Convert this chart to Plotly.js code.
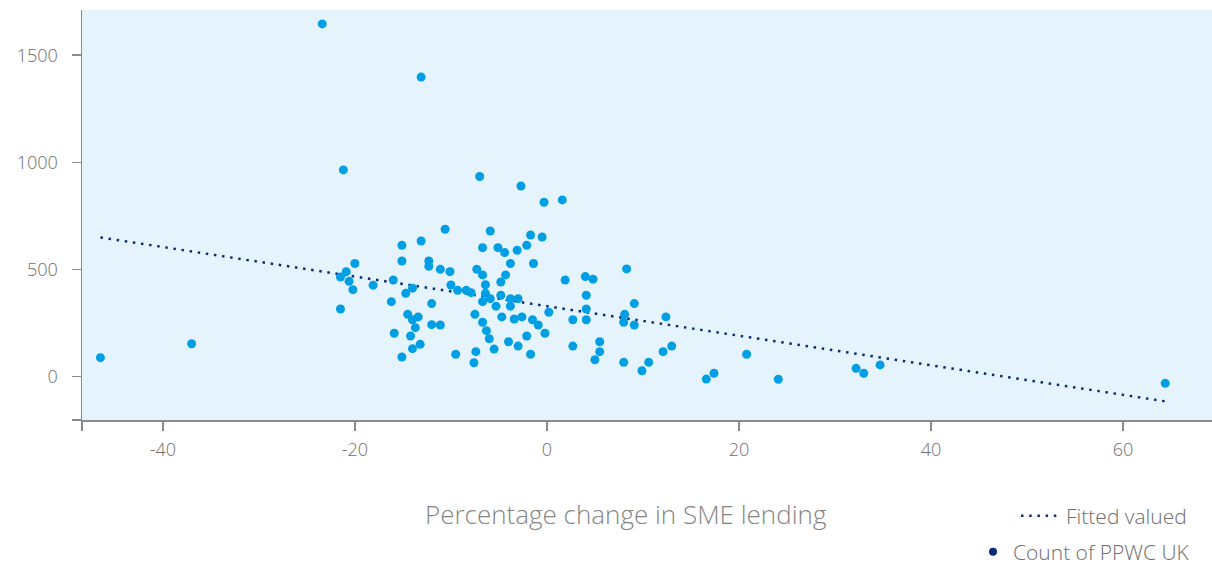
<!DOCTYPE html>
<html><head><meta charset="utf-8">
<script src="https://cdn.plot.ly/plotly-3.0.1.min.js"></script>
<style>html,body{margin:0;padding:0;background:#fff;}#chart{width:1212px;height:565px;}</style>
</head><body><div id="chart"></div>
<script>
// Percentage change in SME lending (x) vs Count of PPWC UK (y)
const lendingChange = [
 -46.5, -37.0, -23.4, -13.1, -21.2, -7.0, -2.7, -0.3, 1.6, -10.6,
 -5.9, -1.7, -0.5, -15.1, -13.1, -6.7, -5.1, -4.4, -3.1, -2.1,
 -15.1, -12.3, -12.3, -11.1, -10.1, -7.3, -6.7, -3.8, -1.4, -4.3,
 -20.0, -20.9, -21.5, -20.6, -20.2, -21.5, -18.1, -16.0, -14.0, -14.7,
 -16.2, -10.0, -9.3, -8.4, -7.9, -6.4, -6.4, -6.7, -5.9, -4.8,
 -4.8, -3.8, -3.0, -5.3, -3.8, -12.0, -14.5, -14.0, -13.4, -13.7,
 -12.0, -11.1, -7.5, -6.7, -4.7, -3.4, -2.6, -1.5, -0.9, 0.2,
 -6.3, -15.9, -14.2, -6.0, -2.1, -0.2, -4.0, -3.0, -5.5, -13.2,
 -14.0, -15.1, -9.5, -7.4, -7.6, -1.7, 1.9, 4.0, 4.8, 4.1,
 4.1, 4.1, 2.7, 2.7, 5.5, 5.5, 5.0, 8.3, 9.1, 8.1,
 8.0, 9.1, 12.4, 8.0, 10.6, 9.9, 12.1, 13.0, 16.6, 17.4,
 20.8, 24.1, 32.2, 33.0, 34.7, 64.4
];
const ppwcCount = [
 89, 154, 1646, 1398, 965, 934, 890, 814, 825, 688,
 680, 661, 652, 613, 633, 602, 602, 579, 590, 613,
 540, 540, 515, 501, 490, 501, 475, 528, 528, 475,
 528, 490, 465, 445, 406, 316, 427, 451, 413, 389,
 350, 428, 403, 403, 392, 429, 389, 350, 364, 442,
 380, 364, 364, 329, 329, 341, 291, 266, 279, 229,
 243, 241, 291, 254, 279, 269, 279, 266, 241, 301,
 215, 203, 190, 177, 190, 203, 163, 143, 129, 151,
 131, 92, 105, 117, 65, 105, 451, 467, 455, 380,
 316, 266, 266, 143, 163, 117, 79, 503, 341, 291,
 254, 241, 279, 67, 67, 28, 117, 143, -11, 16,
 105, -12, 39, 16, 55, -31
];
const fittedX = [-46.5, 64.4];
const fittedY = [650, -115];

const xTickVals = [-40, -20, 0, 20, 40, 60];
const yTickVals = [0, 500, 1000, 1500];
const xRange = [-48.42, 69.27];
const yRange = [-202, 1711];

const seriesNames = ['Fitted valued', 'Count of PPWC UK'];
const xTitle = 'Percentage change in SME lending';

const axisGrey = '#8a8a8a';
const textGrey = '#6e6e6e';

const traces = [
  {
    type: 'scatter', mode: 'lines', x: fittedX, y: fittedY,
    name: seriesNames[0], legend: 'legend',
    line: {color: '#0b2c74', width: 2.5, dash: '2.5px,5.7px'},
    hoverinfo: 'skip'
  },
  {
    type: 'scatter', mode: 'markers', x: lendingChange, y: ppwcCount,
    name: seriesNames[1], showlegend: false,
    marker: {color: '#009fe3', size: 9}
  },
  {
    type: 'scatter', mode: 'markers', x: [null], y: [null],
    name: seriesNames[1], legend: 'legend2',
    marker: {color: '#0b2c74', size: 8}
  }
];

const layout = {
  width: 1212, height: 565,
  margin: {l: 82, r: 0, t: 10, b: 145, autoexpand: false},
  paper_bgcolor: '#ffffff',
  plot_bgcolor: '#e5f4fc',
  font: {family: 'Open Sans, sans-serif', color: textGrey},
  xaxis: {
    range: xRange,
    tickvals: [xRange[0]].concat(xTickVals),
    ticktext: [''].concat(xTickVals.map(String)),
    ticks: 'outside', ticklen: 9, tickwidth: 1.5, tickcolor: axisGrey,
    showline: true, linecolor: axisGrey, linewidth: 1.5,
    showgrid: false, zeroline: false,
    tickfont: {size: 18, color: textGrey, weight: 300},
    ticklabelstandoff: 4
  },
  yaxis: {
    range: yRange,
    tickvals: [yRange[0]].concat(yTickVals),
    ticktext: [''].concat(yTickVals.map(String)),
    ticks: 'outside', ticklen: 9, tickwidth: 1.5, tickcolor: axisGrey,
    showline: true, linecolor: axisGrey, linewidth: 1.5,
    showgrid: false, zeroline: false,
    tickfont: {size: 18, color: textGrey, weight: 300},
    ticklabelstandoff: 10
  },
  annotations: [{
    text: xTitle, showarrow: false,
    xref: 'paper', yref: 'paper',
    x: (626 - 82) / 1130, xanchor: 'center',
    y: (420 - 514) / 410, yanchor: 'middle',
    font: {size: 26, color: '#858585', weight: 300}
  }],
  legend: {
    xref: 'container', yref: 'container',
    x: 1016 / 1212, xanchor: 'left',
    y: 1 - 516 / 565, yanchor: 'middle',
    bgcolor: 'rgba(0,0,0,0)', borderwidth: 0,
    font: {size: 21, color: textGrey, weight: 300},
    itemwidth: 40
  },
  legend2: {
    xref: 'container', yref: 'container',
    x: 973 / 1212, xanchor: 'left',
    y: 1 - 552 / 565, yanchor: 'middle',
    bgcolor: 'rgba(0,0,0,0)', borderwidth: 0,
    font: {size: 21, color: textGrey, weight: 300}
  },
  showlegend: true
};

Plotly.newPlot('chart', traces, layout, {displayModeBar: false, staticPlot: true});
</script>
</body></html>
